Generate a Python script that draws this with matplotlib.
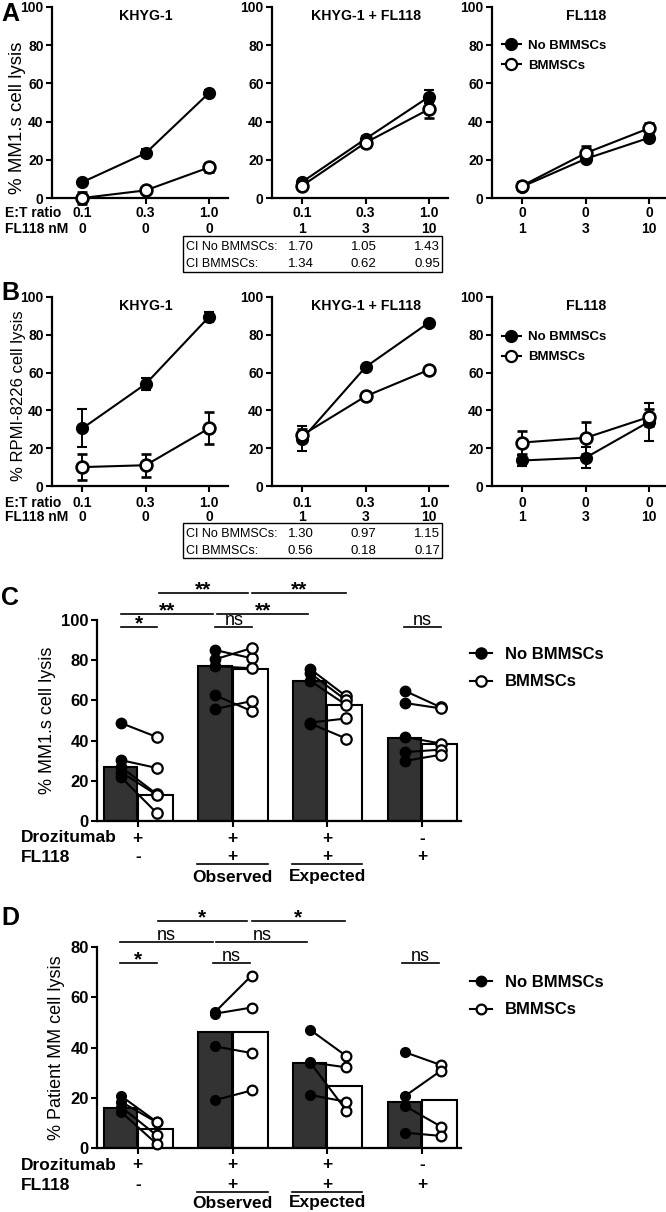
import numpy as np
import matplotlib
matplotlib.use('Agg')
import matplotlib.pyplot as plt
import matplotlib.transforms as mtrans
from matplotlib.lines import Line2D
from matplotlib.patches import Rectangle

plt.rcParams['font.family'] = ['Liberation Sans', 'DejaVu Sans']
plt.rcParams['font.weight'] = 'bold'

W, H = 666, 1212

# ---------------- panels A / B : line plots (mean +/- error) ----------------
line_titles = ['KHYG-1', 'KHYG-1 + FL118', 'FL118']
et_ratio = [['0.1', '0.3', '1.0'], ['0.1', '0.3', '1.0'], ['0', '0', '0']]
fl118_nm = [['0', '0', '0'], ['1', '3', '10'], ['1', '3', '10']]

a_no = [[8.3, 23.5, 55], [8.5, 31, 53], [6, 20.5, 31.5]]
a_no_err = [[1, 2, 1.5], [1, 1.5, 3.5], [2.5, 1, 1.5]]
a_bm = [[0, 4, 16], [6.5, 29, 46.5], [6.5, 23.5, 36.5]]
a_bm_err = [[3, 1, 2.5], [1, 2.5, 4.5], [1.5, 3.5, 3]]

b_no = [[30.5, 54, 89.5], [25, 63, 86.5], [13.5, 15, 34]]
b_no_err = [[10, 3, 2.5], [6.5, 1, 1], [3, 5.5, 10]]
b_bm = [[10, 11, 30.5], [27, 47.5, 61.5], [23, 25.5, 36.5]]
b_bm_err = [[7, 6, 8.5], [3, 2, 1], [6, 8.5, 4.5]]

ci_a_no = ['1.70', '1.05', '1.43']
ci_a_bm = ['1.34', '0.62', '0.95']
ci_b_no = ['1.30', '0.97', '1.15']
ci_b_bm = ['0.56', '0.18', '0.17']

# ---------------- panels C / D : paired points + median bars ----------------
drozitumab = ['+', '+', '+', '-']
fl118 = ['-', '+', '+', '+']

c_no_pts = [[48.8, 30.3, 27, 24.4, 22], [85, 80.5, 77, 62.5, 55.7],
            [75.6, 73.5, 69.7, 49, 48.5], [64.7, 58.7, 41.8, 34.3, 29.9]]
c_bm_pts = [[41.8, 26.4, 13.4, 13, 4], [81, 86, 76, 54.7, 59.7],
            [62, 60, 57.7, 51, 41], [56.5, 56, 38.5, 35.5, 33]]
c_no_bar = [27, 77, 69.7, 41.3]
c_bm_bar = [13, 75.6, 57.7, 38.3]

d_no_pts = [[20.8, 18.5, 16.5, 14.5], [54.3, 53.5, 40.4, 19.1],
            [47, 34.1, 34, 21.1], [38.1, 20.7, 16.7, 6.1]]
d_bm_pts = [[10.4, 10.2, 5, 1.6], [68.6, 55.9, 37.8, 22.9],
            [36.6, 32.1, 14.9, 18.4], [33, 30.8, 8.5, 4.8]]
d_no_bar = [16.1, 46.2, 33.7, 18.5]
d_bm_bar = [7.6, 46.2, 24.7, 19.1]

# significance brackets: (row y, x0, x1, label)
c_sig = [(113.4, 0.22, 1.16, '**'), (113.4, 1.21, 2.2, '**'),
         (103, -0.18, 0.79, '**'), (103, 0.84, 1.8, '**'),
         (96.5, -0.18, 0.2, '*'), (96.5, 0.82, 1.21, 'ns'), (96.5, 2.81, 3.2, 'ns')]
d_sig = [(90.3, 0.21, 1.15, '*'), (90.3, 1.2, 2.19, '*'),
         (82, -0.19, 0.79, 'ns'), (82, 0.83, 1.79, 'ns'),
         (73.6, -0.19, 0.2, '*'), (73.6, 0.79, 1.18, 'ns'), (73.6, 2.79, 3.18, 'ns')]

fig = plt.figure(figsize=(W / 100, H / 100), dpi=100)


def add_ax(left, top, right, bottom):
    return fig.add_axes([left / W, 1 - bottom / H, (right - left) / W, (bottom - top) / H])


def style(ax, fs):
    for s in ['top', 'right']:
        ax.spines[s].set_visible(False)
    for s in ['left', 'bottom']:
        ax.spines[s].set_linewidth(1.6)
    ax.tick_params(direction='out', length=4, width=1.5, labelsize=fs, pad=2)


def legend_handles(ms):
    return [Line2D([], [], color='k', lw=1.5, marker='o', ms=ms, mfc='k', mec='k', mew=1.5),
            Line2D([], [], color='k', lw=1.5, marker='o', ms=ms, mfc='white', mec='k', mew=1.6)]


# ---- A and B ----
lefts = [52, 272, 492]
ab_rows = [
    dict(top=7, bot=198, no=a_no, no_err=a_no_err, bm=a_bm, bm_err=a_bm_err,
         ylab='% MM1.s cell lysis', ylab_fs=13.5, ylab_y=0.42, r1=213, r2=229, box=(236, 272),
         ci_no=ci_a_no, ci_bm=ci_a_bm, letter='A', letter_y=14, leg_y=0.83),
    dict(top=297, bot=486, no=b_no, no_err=b_no_err, bm=b_bm, bm_err=b_bm_err,
         ylab='% RPMI-8226 cell lysis', ylab_fs=12, ylab_y=0.48, r1=503, r2=517, box=(523, 558),
         ci_no=ci_b_no, ci_bm=ci_b_bm, letter='B', letter_y=293, leg_y=0.82),
]

x3 = np.arange(3)
for row in ab_rows:
    axes = []
    for i, left in enumerate(lefts):
        ax = add_ax(left, row['top'], left + 176, row['bot'])
        style(ax, 10)
        ax.errorbar(x3, row['no'][i], yerr=row['no_err'][i], fmt='-o', color='k', lw=1.5,
                    ms=8, mfc='k', mec='k', mew=1.5, capsize=3.5, elinewidth=1.4, capthick=1.4,
                    clip_on=False, zorder=3)
        ax.errorbar(x3, row['bm'][i], yerr=row['bm_err'][i], fmt='-o', color='k', lw=1.5,
                    ms=8.5, mfc='white', mec='k', mew=1.9, capsize=3.5, elinewidth=1.4, capthick=1.4,
                    clip_on=False, zorder=4)
        ax.set_xlim(-0.48, 2.3)
        ax.set_ylim(0, 100)
        ax.set_yticks(np.arange(0, 101, 20))
        ax.set_xticks(x3)
        ax.set_xticklabels([])
        ax.text(1, 95.5, line_titles[i], ha='center', va='center', fontsize=10.2)
        tr = mtrans.blended_transform_factory(ax.transData, fig.transFigure)
        for j in range(3):
            ax.text(j, 1 - row['r1'] / H, et_ratio[i][j], transform=tr, ha='center', va='center', fontsize=10)
            ax.text(j, 1 - row['r2'] / H, fl118_nm[i][j], transform=tr, ha='center', va='center', fontsize=10)
        axes.append(ax)
    axes[0].set_ylabel(row['ylab'], fontsize=row['ylab_fs'])
    axes[0].yaxis.set_label_coords(-0.15, row['ylab_y'])
    fig.text(5 / W, 1 - row['r1'] / H, 'E:T ratio', ha='left', va='center', fontsize=10)
    fig.text(5 / W, 1 - row['r2'] / H, 'FL118 nM', ha='left', va='center', fontsize=10)
    axes[2].legend(handles=legend_handles(8), labels=['No BMMSCs', 'BMMSCs'], loc='upper left',
                   bbox_to_anchor=(0.057, row['leg_y']), frameon=False, fontsize=9.5, handlelength=1.4,
                   handletextpad=0.6, labelspacing=0.6, borderpad=0, borderaxespad=0)
    # CI box
    bt, bb = row['box']
    fig.patches.append(Rectangle((183 / W, 1 - bb / H), (442 - 183) / W, (bb - bt) / H,
                                 transform=fig.transFigure, fill=False, ec='k', lw=1))
    y1 = bt + (bb - bt) * 0.31
    y2 = bt + (bb - bt) * 0.79
    fig.text(186 / W, 1 - y1 / H, 'CI No BMMSCs:', ha='left', va='center', fontsize=9, fontweight='normal')
    fig.text(186 / W, 1 - y2 / H, 'CI BMMSCs:', ha='left', va='center', fontsize=9, fontweight='normal')
    tr = mtrans.blended_transform_factory(axes[1].transData, fig.transFigure)
    for j in range(3):
        axes[1].text(j - 0.03, 1 - y1 / H, row['ci_no'][j], transform=tr, ha='center', va='center',
                     fontsize=9.5, fontweight='normal')
        axes[1].text(j - 0.03, 1 - y2 / H, row['ci_bm'][j], transform=tr, ha='center', va='center',
                     fontsize=9.5, fontweight='normal')
    fig.text(1 / W, 1 - row['letter_y'] / H, row['letter'], ha='left', va='center', fontsize=18)

# ---- C and D ----
cd_rows = [
    dict(top=620, bot=821, ymax=100, no_pts=c_no_pts, bm_pts=c_bm_pts, no_bar=c_no_bar,
         bm_bar=c_bm_bar, sig=c_sig, ylab='% MM1.s cell lysis', ms=7.5,
         r1=838, r2=857, uline=864, r3=877, leg_top=647, letter='C', letter_y=598),
    dict(top=947, bot=1148, ymax=80, no_pts=d_no_pts, bm_pts=d_bm_pts, no_bar=d_no_bar,
         bm_bar=d_bm_bar, sig=d_sig, ylab='% Patient MM cell lysis', ms=7,
         r1=1165, r2=1185, uline=1192, r3=1203, leg_top=975, letter='D', letter_y=918),
]

g = np.arange(4)
for row in cd_rows:
    ax = add_ax(97, row['top'], 461, row['bot'])
    style(ax, 12)
    ax.bar(g - 0.36, row['no_bar'], width=0.35, align='edge', color='#333333', ec='k', lw=1.5, zorder=1)
    ax.bar(g, row['bm_bar'], width=0.37, align='edge', color='white', ec='k', lw=1.5, zorder=1)
    for k in range(4):
        for a, b in zip(row['no_pts'][k], row['bm_pts'][k]):
            ax.plot([k - 0.18, k + 0.2], [a, b], color='k', lw=1.5, zorder=2, clip_on=False)
        ax.plot(np.full(len(row['no_pts'][k]), k - 0.18), row['no_pts'][k], 'o', color='k',
                ms=row['ms'], zorder=3, clip_on=False)
        ax.plot(np.full(len(row['bm_pts'][k]), k + 0.2), row['bm_pts'][k], 'o', mfc='white',
                mec='k', mew=1.6, ms=row['ms'], zorder=3, clip_on=False)
    ax.set_xlim(-0.43, 3.41)
    ax.set_ylim(0, row['ymax'])
    ax.set_yticks(np.arange(0, row['ymax'] + 1, 20))
    ax.set_xticks(g)
    ax.set_xticklabels([])
    ax.set_ylabel(row['ylab'], fontsize=13, labelpad=4)

    for (yy, x0, x1, lab) in row['sig']:
        ax.plot([x0, x1], [yy, yy], color='k', lw=1.2, clip_on=False)
        if lab == 'ns':
            ax.text((x0 + x1) / 2, yy + row['ymax'] * 0.01, lab, ha='center', va='baseline',
                    fontsize=13, fontweight='normal')
        else:
            ax.text((x0 + x1) / 2, yy - row['ymax'] * 0.012, lab, ha='center', va='baseline',
                    fontsize=15)

    tr = mtrans.blended_transform_factory(ax.transData, fig.transFigure)
    for k in range(4):
        ax.text(k, 1 - row['r1'] / H, drozitumab[k], transform=tr, ha='center', va='center', fontsize=12.5)
        ax.text(k, 1 - row['r2'] / H, fl118[k], transform=tr, ha='center', va='center', fontsize=12.5)
    for k, lab in [(1, 'Observed'), (2, 'Expected')]:
        ax.plot([k - 0.37, k + 0.37], [1 - row['uline'] / H] * 2, transform=tr, color='k',
                lw=1.2, clip_on=False)
        ax.text(k, 1 - row['r3'] / H, lab, transform=tr, ha='center', va='center', fontsize=12.5)
    fig.text(21 / W, 1 - row['r1'] / H, 'Drozitumab', ha='left', va='center', fontsize=12.5)
    fig.text(21 / W, 1 - row['r2'] / H, 'FL118', ha='left', va='center', fontsize=12.5)
    fig.legend(handles=legend_handles(row['ms']), labels=['No BMMSCs', 'BMMSCs'], loc='upper left',
               bbox_to_anchor=(470 / W, 1 - row['leg_top'] / H), frameon=False, fontsize=12,
               handlelength=1.3, handletextpad=0.8, labelspacing=0.75, borderpad=0, borderaxespad=0)
    fig.text(1 / W, 1 - row['letter_y'] / H, row['letter'], ha='left', va='center', fontsize=18)

fig.savefig('out.png', dpi=100, facecolor='white')
